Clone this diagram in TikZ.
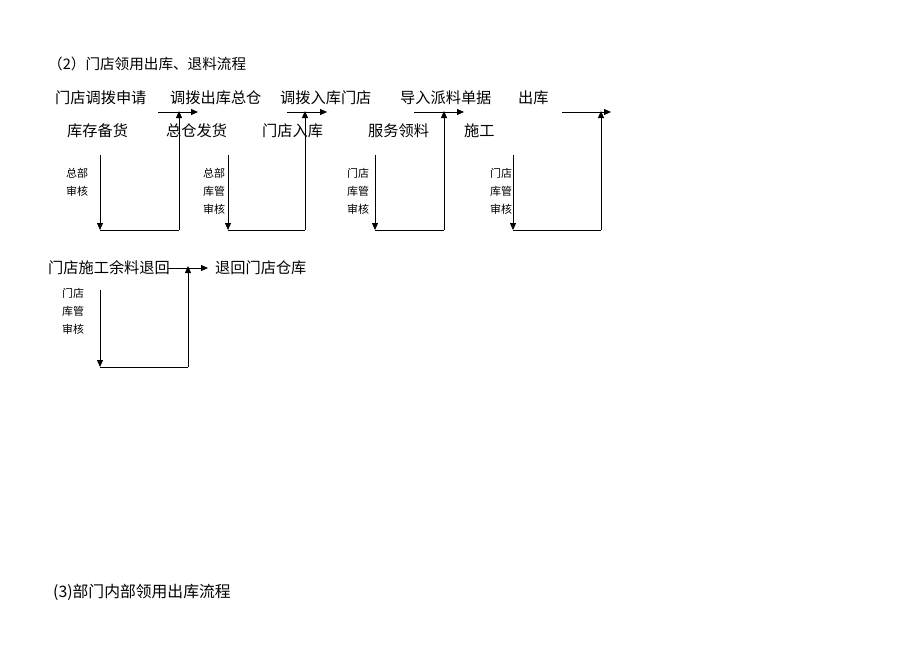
\documentclass[tikz,border=0pt]{standalone}
\usepackage{fontspec}
\newfontfamily\cjk{Noto Sans CJK SC}
\usetikzlibrary{arrows.meta}
\begin{document}
\begin{tikzpicture}[x=1pt,y=-1pt,
  big/.style={font=\cjk\fontsize{15.2}{16}\selectfont, inner sep=0pt, anchor=west},
  small/.style={font=\cjk\fontsize{11}{18}\selectfont, inner sep=0pt, anchor=west, align=left},
  flow/.style={line width=0.8pt,-{Triangle[length=7pt,width=6pt]}},
  ln/.style={line width=0.8pt}]
\useasboundingbox[fill=white] (0,0) rectangle (920,651);

\node[big, font=\cjk\fontsize{14.6}{16}\selectfont] (title) at (48,64) {（2）门店领用出库、退料流程};

% row 1
\node[big] (a1) at (55,98) {门店调拨申请};
\node[big] (a2) at (170,98) {调拨出库总仓};
\node[big] (a3) at (280,98) {调拨入库门店};
\node[big] (a4) at (400,98) {导入派料单据};
\node[big] (a5) at (518,98) {出库};
% row 2
\node[big] (b1) at (67,131) {库存备货};
\node[big] (b2) at (166,131) {总仓发货};
\node[big] (b3) at (262,131) {门店入库};
\node[big] (b4) at (368,131) {服务领料};
\node[big] (b5) at (464,131) {施工};

% small labels
\node[small] (s1) at (66,182) {总部\\审核};
\node[small] (s2) at (203,191) {总部\\库管\\审核};
\node[small] (s3) at (347,191) {门店\\库管\\审核};
\node[small] (s4) at (490,191) {门店\\库管\\审核};

% loop 1
\coordinate (d1t) at (100,155); \coordinate (d1b) at (100,230);
\coordinate (u1b) at (179,230); \coordinate (u1t) at (179,111);
\coordinate (h1s) at (158,112); \coordinate (h1e) at (198,112);
% loop 2
\coordinate (d2t) at (228,155); \coordinate (d2b) at (228,230);
\coordinate (u2b) at (305,230); \coordinate (u2t) at (305,111);
\coordinate (h2s) at (287,112); \coordinate (h2e) at (327,112);
% loop 3
\coordinate (d3t) at (375,155); \coordinate (d3b) at (375,230);
\coordinate (u3b) at (444,230); \coordinate (u3t) at (444,111);
\coordinate (h3s) at (414,112); \coordinate (h3e) at (464,112);
% loop 4
\coordinate (d4t) at (513,155); \coordinate (d4b) at (513,230);
\coordinate (u4b) at (601,230); \coordinate (u4t) at (601,111);
\coordinate (h4s) at (562,112); \coordinate (h4e) at (611,112);

\foreach \i in {1,2,3,4}{
  \draw[flow] (d\i t) -- (d\i b);
  \draw[ln] (d\i b) -- (u\i b);
  \draw[flow] (u\i b) -- (u\i t);
  \draw[flow] (h\i s) -- (h\i e);
}

% return flow
\node[big] (c1) at (48,268) {门店施工余料退回};
\node[big] (c2) at (215,268) {退回门店仓库};
\node[small] (s5) at (62,311) {门店\\库管\\审核};
\coordinate (d5t) at (100,290); \coordinate (d5b) at (100,367);
\coordinate (u5b) at (188,367); \coordinate (u5t) at (188,266);
\coordinate (h5s) at (168,268); \coordinate (h5e) at (208,268);
\draw[flow] (h5s) -- (h5e);
\draw[flow] (d5t) -- (d5b);
\draw[ln] (d5b) -- (u5b);
\draw[flow] (u5b) -- (u5t);

\node[big, font=\cjk\fontsize{15.8}{16}\selectfont] (sec3) at (53,592) {(3)部门内部领用出库流程};
\end{tikzpicture}
\end{document}
